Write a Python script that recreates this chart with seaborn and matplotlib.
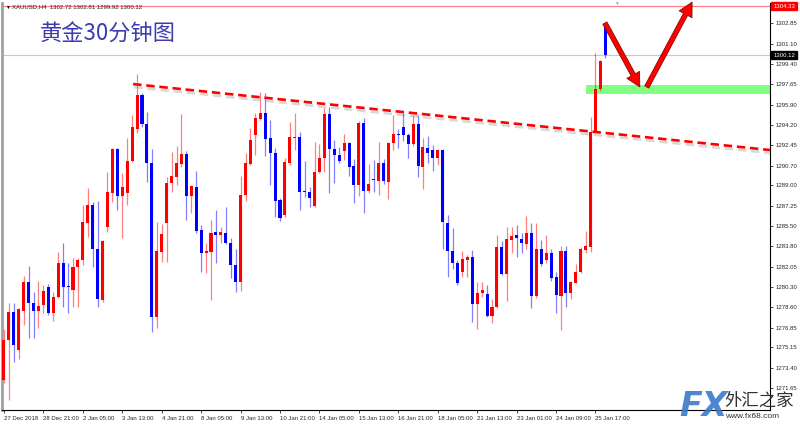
import numpy as np
import pandas as pd
import matplotlib.pyplot as plt
import seaborn as sns
from matplotlib import patheffects

# XAUUSD H4 candles
opens = [1272.36, 1275.78, 1278.17, 1274.93, 1278.26, 1280.74, 1278.94, 1278.26, 1278.77, 1280.31,
         1278.09, 1279.46, 1282.36, 1280.40, 1280.05, 1282.02, 1282.62, 1285.78, 1287.32, 1283.56,
         1279.20, 1285.44, 1288.34, 1292.10, 1288.09, 1288.34, 1291.08, 1293.81, 1296.72, 1294.24,
         1290.91, 1277.75, 1283.30, 1285.78, 1289.20, 1289.71, 1290.82, 1291.68, 1288.09, 1288.86,
         1285.18, 1283.22, 1283.30, 1285.01, 1284.75, 1284.93, 1284.07, 1282.19, 1280.74, 1288.17,
         1290.82, 1293.30, 1294.67, 1295.18, 1293.05, 1291.76, 1287.75, 1286.46, 1290.91, 1293.05,
         1293.13, 1288.52, 1288.43, 1287.23, 1290.14, 1291.34, 1295.10, 1292.10, 1291.59, 1291.93,
         1292.62, 1290.65, 1289.03, 1294.33, 1288.52, 1289.54, 1289.37, 1290.91, 1289.28, 1292.62,
         1293.39, 1293.99, 1293.30, 1292.53, 1294.24, 1290.57, 1292.19, 1292.02, 1291.34, 1292.02,
         1285.78, 1283.39, 1282.36, 1281.59, 1282.62, 1282.87, 1278.86, 1279.80, 1279.71, 1277.83,
         1278.60, 1283.73, 1281.42, 1284.33, 1284.75, 1284.41, 1283.99, 1284.93, 1279.54, 1283.56,
         1282.62, 1283.22, 1281.17, 1279.54, 1283.39, 1279.80, 1280.65, 1281.59, 1283.47, 1283.73,
         1293.56, 1297.23, 1302.72]
highs = [1276.72, 1278.94, 1278.94, 1278.52, 1281.25, 1282.11, 1279.88, 1280.82, 1280.48, 1280.57,
         1279.88, 1283.30, 1284.07, 1282.36, 1282.79, 1282.79, 1287.32, 1288.77, 1287.58, 1287.66,
         1284.33, 1290.14, 1292.19, 1292.19, 1290.05, 1293.05, 1295.01, 1298.52, 1296.89, 1295.27,
         1292.10, 1285.87, 1285.69, 1289.71, 1291.85, 1292.36, 1295.10, 1291.93, 1289.03, 1290.22,
         1285.61, 1284.07, 1286.04, 1286.89, 1285.44, 1287.15, 1284.50, 1283.56, 1289.80, 1291.76,
         1293.90, 1295.18, 1296.98, 1296.89, 1294.58, 1292.19, 1287.92, 1291.34, 1294.41, 1295.18,
         1293.56, 1291.08, 1288.86, 1292.70, 1292.53, 1295.61, 1295.69, 1292.87, 1292.28, 1293.39,
         1292.70, 1291.25, 1294.50, 1294.75, 1290.82, 1291.16, 1292.70, 1291.25, 1292.70, 1295.01,
         1293.81, 1295.18, 1293.47, 1295.01, 1295.01, 1293.05, 1293.22, 1292.45, 1292.10, 1292.10,
         1286.46, 1285.35, 1282.62, 1283.39, 1283.05, 1283.47, 1280.74, 1280.74, 1280.48, 1279.28,
         1284.75, 1284.24, 1285.44, 1285.44, 1285.61, 1284.93, 1286.38, 1285.78, 1285.78, 1284.33,
         1284.75, 1283.56, 1281.59, 1283.81, 1283.81, 1280.82, 1282.28, 1283.73, 1285.10, 1294.84,
         1300.31, 1299.71, 1302.81]
lows = [1272.10, 1270.65, 1273.90, 1274.16, 1277.06, 1275.95, 1275.95, 1276.81, 1278.09, 1277.92,
        1277.40, 1279.37, 1278.60, 1278.09, 1278.60, 1278.60, 1282.19, 1284.58, 1282.02, 1278.60,
        1279.03, 1285.01, 1287.58, 1286.89, 1284.50, 1287.32, 1290.99, 1293.47, 1293.99, 1289.28,
        1276.46, 1276.81, 1282.45, 1282.45, 1288.43, 1289.03, 1290.57, 1286.04, 1286.63, 1284.93,
        1281.59, 1281.51, 1279.20, 1282.36, 1284.07, 1283.99, 1281.08, 1279.88, 1279.97, 1287.66,
        1290.74, 1291.59, 1294.58, 1291.51, 1289.03, 1286.29, 1285.95, 1286.29, 1290.74, 1292.02,
        1286.89, 1288.00, 1287.15, 1287.15, 1290.05, 1290.14, 1288.34, 1289.20, 1290.91, 1291.16,
        1289.80, 1287.49, 1288.09, 1286.63, 1288.34, 1288.43, 1288.17, 1289.11, 1287.83, 1292.02,
        1292.19, 1292.79, 1291.34, 1292.36, 1289.71, 1288.69, 1290.91, 1290.22, 1290.74, 1283.56,
        1281.17, 1281.85, 1280.48, 1281.17, 1281.17, 1277.32, 1276.72, 1279.46, 1277.75, 1277.23,
        1278.52, 1281.34, 1279.11, 1283.22, 1282.87, 1283.22, 1283.56, 1278.52, 1279.37, 1282.11,
        1282.36, 1280.82, 1278.09, 1276.63, 1278.60, 1279.28, 1280.65, 1281.51, 1283.22, 1283.30,
        1293.56, 1297.06, 1299.92]
closes = [1275.78, 1278.17, 1275.35, 1278.43, 1280.74, 1278.94, 1278.26, 1278.69, 1279.97, 1278.09,
          1279.46, 1282.36, 1280.31, 1280.31, 1282.02, 1282.62, 1285.87, 1287.32, 1283.56, 1279.28,
          1284.24, 1288.43, 1292.10, 1288.09, 1288.86, 1291.08, 1293.99, 1296.72, 1294.24, 1290.91,
          1277.75, 1283.39, 1284.84, 1289.20, 1289.80, 1290.91, 1291.68, 1288.09, 1288.94, 1285.10,
          1283.22, 1283.39, 1284.93, 1284.75, 1285.01, 1284.07, 1282.19, 1280.74, 1288.17, 1290.91,
          1292.87, 1294.75, 1295.18, 1292.96, 1291.76, 1287.66, 1286.21, 1290.99, 1293.13, 1293.13,
          1288.43, 1288.43, 1287.92, 1290.14, 1291.34, 1295.10, 1292.10, 1291.59, 1291.08, 1292.62,
          1290.57, 1289.03, 1294.33, 1288.52, 1289.11, 1289.46, 1290.91, 1289.37, 1292.62, 1293.39,
          1293.30, 1293.30, 1292.53, 1294.24, 1290.65, 1292.28, 1291.76, 1291.34, 1292.02, 1285.87,
          1283.39, 1282.36, 1280.65, 1282.70, 1282.87, 1278.86, 1279.80, 1280.05, 1277.83, 1278.60,
          1283.73, 1281.42, 1284.41, 1284.67, 1284.50, 1284.07, 1284.93, 1279.54, 1283.56, 1282.28,
          1283.22, 1281.08, 1279.63, 1283.39, 1279.80, 1280.74, 1281.59, 1283.56, 1283.81, 1293.56,
          1297.23, 1299.63, 1300.12]

date_labels = ["27 Dec 2018", "28 Dec 21:00", "2 Jan 05:00", "3 Jan 13:00", "4 Jan 21:00",
               "8 Jan 05:00", "9 Jan 13:00", "10 Jan 21:00", "14 Jan 05:00", "15 Jan 13:00",
               "16 Jan 21:00", "18 Jan 05:00", "21 Jan 13:00", "23 Jan 01:00", "24 Jan 09:00",
               "25 Jan 17:00"]
price_ticks = [1271.65, 1273.40, 1275.15, 1276.85, 1278.60, 1280.30, 1282.05, 1283.80, 1285.50,
               1287.25, 1289.00, 1290.70, 1292.45, 1294.20, 1295.90, 1297.65, 1299.40, 1301.10,
               1302.85]
ask_price = 1304.33
bid_price = 1300.12

# drawn annotations (bar index / price)
trend_x = [26.2, 155.4]
trend_y = [1297.66, 1292.02]
zone_x = [118, 155.4]
zone_lo, zone_hi = 1296.81, 1297.58
arrow1 = [(121.9, 1302.88), (129.0, 1297.41)]
arrow2 = [(130.4, 1297.41), (139.6, 1304.67)]

df = pd.DataFrame({"open": opens, "high": highs, "low": lows, "close": closes})
df["idx"] = np.arange(len(df))
df["color"] = np.where(df["close"] >= df["open"], "#ff0000", "#0000ff")
df["bottom"] = df[["open", "close"]].min(axis=1)
df["height"] = (df["close"] - df["open"]).abs().clip(lower=0.07)

sns.set_style("white")
plt.rcParams['font.family'] = ['Liberation Sans', 'Noto Sans CJK SC', 'DejaVu Sans']

fig = plt.figure(figsize=(8, 4.25), dpi=100)
ax = fig.add_axes([0.0025, 0.0353, 0.96, 0.9576])

ax.fill_between(zone_x, zone_lo, zone_hi, color="#80ff80", lw=0, zorder=1)
ax.axhline(ask_price, color="#ff8080", lw=0.9, zorder=1)
ax.axhline(bid_price, color="#c8c8c8", lw=0.8, zorder=1)

# candles
ax.vlines(df["idx"], df["low"], df["high"], colors=df["color"], lw=0.9, alpha=0.5, zorder=2)
ax.bar(df["idx"], df["height"], bottom=df["bottom"], width=0.62, color=df["color"], lw=0, zorder=3)

# trend line with shadow
sns.lineplot(x=trend_x, y=trend_y, ax=ax, color="red", lw=1.9, linestyle=(0, (3.2, 1.8)), zorder=4,
             path_effects=[patheffects.SimpleLineShadow(offset=(0.8, -2.2), shadow_color="#909090", alpha=0.35),
                           patheffects.Normal()])

for start, end in [arrow1, arrow2]:
    ax.annotate("", xy=end, xytext=start, annotation_clip=False, zorder=6,
                arrowprops=dict(facecolor="#ff0000", edgecolor="#700000", lw=0.5,
                                width=3.4, headwidth=10.5, headlength=10))

ax.set_xlim(-0.4, 155.4)
ax.set_ylim(1269.8, 1304.59)

ax.set_xticks(np.arange(0, 121, 8))
ax.set_xticklabels(date_labels, ha="left")
ax.tick_params(axis="x", length=2.5, width=0.6, labelsize=4.3, pad=1.5, direction="out", bottom=True)

ax.yaxis.tick_right()
ax.set_yticks(price_ticks)
ax.set_yticklabels([f"{v:.2f}" for v in price_ticks])
ax.tick_params(axis="y", length=2.5, width=0.6, labelsize=4.3, pad=1.5, direction="out", right=True)

ax.spines["top"].set_visible(False)
ax.spines["left"].set_color("#a0a0a0")
ax.spines["left"].set_linewidth(2)
ax.spines["right"].set_color("black")
ax.spines["right"].set_linewidth(0.8)
ax.spines["bottom"].set_color("black")
ax.spines["bottom"].set_linewidth(0.8)
ax.set_xlabel("")
ax.set_ylabel("")

trans = ax.get_yaxis_transform()
ax.text(1.004, ask_price, f"{ask_price:.2f}", transform=trans, fontsize=4.3, color="white",
        va="center", ha="left", bbox=dict(facecolor="#ff0000", edgecolor="#ff0000", pad=1.2))
ax.text(1.004, bid_price, f"{bid_price:.2f}", transform=trans, fontsize=4.3, color="white",
        va="center", ha="left", bbox=dict(facecolor="black", edgecolor="black", pad=1.2))

fig.text(5 / 800, 1 - 7 / 425, "▼", fontsize=3.5, color="black", va="center")
fig.text(12 / 800, 1 - 7 / 425, "XAUUSD,H4  1302.72 1302.81 1299.92 1300.12", fontsize=4.3,
         color="#202020", va="center")
fig.text(616 / 800, 1 - 3 / 425, "▼", fontsize=3.5, color="#a0a0a0", ha="center", va="center")

fig.text(40 / 800, 1 - 34 / 425, "黄金30分钟图", fontsize=16, color="#3c3cb0", va="center",
         family=["Noto Sans CJK SC", "DejaVu Sans"])

# watermark
fig.text(679 / 800, 1 - 407 / 425, "FX", fontsize=24, fontweight="bold", style="italic",
         color="#3a7ac8", va="center", family=["DejaVu Sans"], alpha=0.9)
fig.text(724 / 800, 1 - 401 / 425, "外汇之家", fontsize=12.5, color="#303030", va="center",
         family=["Noto Sans CJK SC", "DejaVu Sans"])
fig.text(725 / 800, 1 - 417 / 425, "www.fx68.com", fontsize=6, color="#303030", va="center")

fig.savefig("out.png", dpi=100)
